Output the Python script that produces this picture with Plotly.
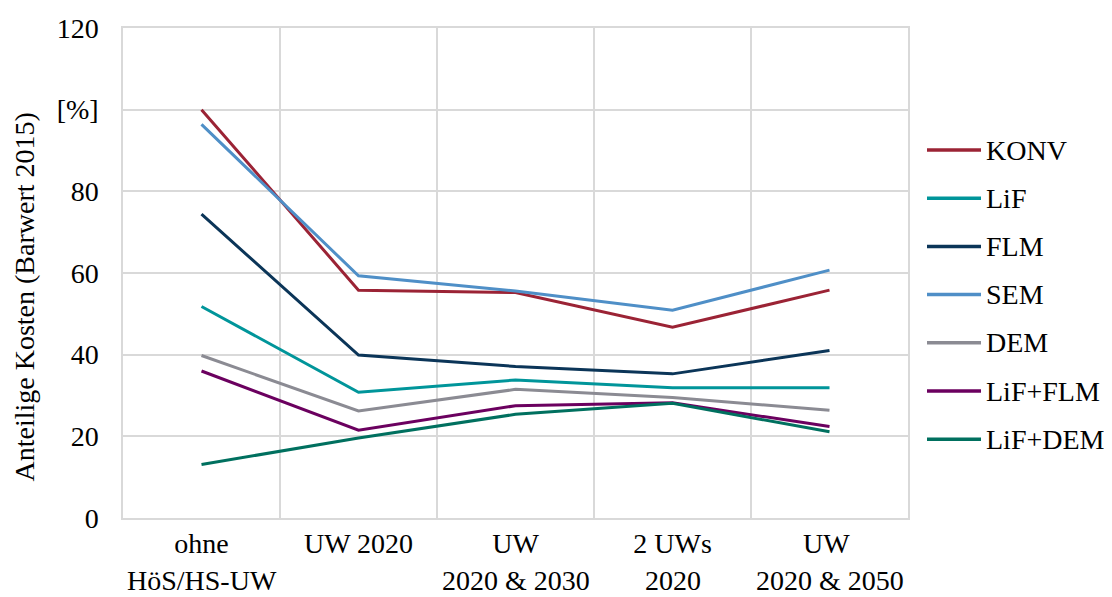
import plotly.graph_objects as go

categories = ["ohne", "UW 2020", "UW", "2 UWs", "UW "]
category_second_lines = ["HöS/HS-UW", "", "2020 & 2030", "2020", "2020 & 2050"]
series_names = ["KONV", "LiF", "FLM", "SEM", "DEM", "LiF+FLM", "LiF+DEM"]
konv = [100.0, 55.8, 55.2, 46.7, 55.8]
lif = [51.8, 30.8, 33.8, 31.9, 31.9]
flm = [74.4, 39.9, 37.1, 35.3, 41.0]
sem = [96.4, 59.3, 55.6, 50.9, 60.7]
dem = [39.8, 26.2, 31.5, 29.5, 26.4]
lif_flm = [36.0, 21.5, 27.5, 28.2, 22.4]
lif_dem = [13.1, 19.6, 25.4, 28.1, 21.1]
series_values = [konv, lif, flm, sem, dem, lif_flm, lif_dem]
colors = ["#9b2335", "#00959a", "#0b3558", "#4f8fc7", "#8b8b93", "#6b005f", "#00705f"]
y_tickvals = [0, 20, 40, 60, 80, 100, 120]
y_ticktext = ["0", "20", "40", "60", "80", "[%]", "120"]
y_title = "Anteilige Kosten (Barwert 2015)"

FONT = "Liberation Serif, Times New Roman, serif"
OFF = 8  # page body margin in the browser
W, H = 1112 - OFF, 597 - OFF
ml, mr, mt, mb = 123 - OFF, 1112 - 908, 28 - OFF, 597 - 518
pw, ph = W - ml - mr, H - mt - mb


def px_x(xs):
    return (xs - OFF - ml) / pw


def px_y(ys):
    return (H - mb - (ys - OFF)) / ph


fig = go.Figure()
for name, vals, col in zip(series_names, series_values, colors):
    fig.add_trace(go.Scatter(x=categories, y=vals, mode="lines", name=name,
                             line=dict(color=col, width=3), showlegend=False))

# second lines of the category labels
for cat, second in zip(categories, category_second_lines):
    if second:
        fig.add_annotation(xref="x", yref="paper", x=cat, y=px_y(596.5), text=second,
                           showarrow=False, xanchor="center", yanchor="bottom",
                           borderpad=0,
                           font=dict(family=FONT, size=28, color="#000000"))

# custom legend (line samples + real text)
leg_y0 = 150
leg_dy = 48.2
for i, (name, col) in enumerate(zip(series_names, colors)):
    yp = px_y(leg_y0 + i * leg_dy)
    fig.add_shape(type="line", xref="paper", yref="paper", x0=px_x(927), x1=px_x(981),
                  y0=yp, y1=yp, line=dict(color=col, width=3.5))
    fig.add_annotation(xref="paper", yref="paper", x=px_x(984), y=yp, text=name,
                       showarrow=False, xanchor="left", yanchor="middle",
                       font=dict(family=FONT, size=28, color="#000000"))

fig.add_annotation(xref="paper", yref="paper", x=px_x(24), y=px_y(297.5),
                   text=y_title, textangle=-90, showarrow=False,
                   xanchor="center", yanchor="middle",
                   font=dict(family=FONT, size=28, color="#000000"))

fig.update_layout(
    width=W, height=H,
    margin=dict(l=ml, r=mr, t=mt, b=mb, pad=0, autoexpand=False),
    paper_bgcolor="white", plot_bgcolor="white",
    font=dict(family=FONT, size=28, color="#000000"),
    showlegend=False,
)
fig.update_xaxes(type="category", range=[-0.5, 4.5], tickson="boundaries",
                 showgrid=True, gridcolor="#d9d9d9", gridwidth=1.5,
                 showline=True, linecolor="#d9d9d9", linewidth=1.5, mirror=True,
                 ticks="", tickangle=0, automargin=False,
                 tickfont=dict(family=FONT, size=28, color="#000000"))
fig.update_yaxes(range=[0, 120], tickvals=y_tickvals, ticktext=y_ticktext,
                 showgrid=True, gridcolor="#d9d9d9", gridwidth=1.5,
                 showline=True, linecolor="#d9d9d9", linewidth=1.5, mirror=True,
                 zeroline=False, ticks="", ticklabelstandoff=17, automargin=False,
                 tickfont=dict(family=FONT, size=28, color="#000000"))

fig.write_html("out.html")
